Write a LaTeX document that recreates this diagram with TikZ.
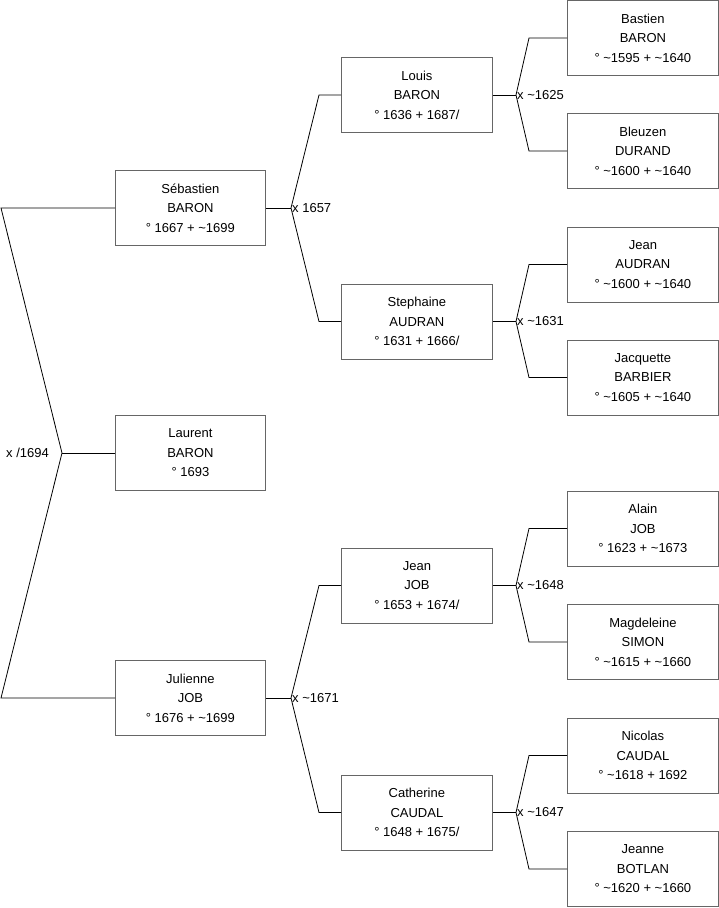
\documentclass[tikz,border=0pt]{standalone}
\usepackage{fontspec}
\setmainfont{Liberation Sans}
\usetikzlibrary{positioning}
\newcommand\abt{\textasciitilde}

\begin{document}
\begin{tikzpicture}[x=1pt, y=-1pt,
  every node/.style={font=\fontsize{13}{19.5}\selectfont},
  person/.style={draw=black!60, line width=0.8pt, fill=white, align=center, minimum width=151pt, minimum height=75pt, inner sep=0pt, anchor=west},
  link/.style={line width=0.8pt},
  union/.style={anchor=west, inner sep=1pt}]
  \useasboundingbox (0,0) rectangle (719,908);

  % generation 0
  \node[person, minimum width=150pt] (sebastien) at (115,208) {Sébastien\\BARON\\° 1667 + \abt1699};
  \node[person, minimum width=150pt] (laurent) at (115,453) {Laurent\\BARON\\° 1693};
  \node[person, minimum width=150pt] (julienne) at (115,698) {Julienne\\JOB\\° 1676 + \abt1699};

  % generation 1
  \node[person] (louis) at (341,95) {Louis\\BARON\\° 1636 + 1687/};
  \node[person] (stephaine) at (341,321.5) {Stephaine\\AUDRAN\\° 1631 + 1666/};
  \node[person] (jeanjob) at (341,585.5) {Jean\\JOB\\° 1653 + 1674/};
  \node[person] (catherine) at (341,812.5) {Catherine\\CAUDAL\\° 1648 + 1675/};

  % generation 2
  \node[person] (bastien) at (567,38) {Bastien\\BARON\\° \abt1595 + \abt1640};
  \node[person] (bleuzen) at (567,151) {Bleuzen\\DURAND\\° \abt1600 + \abt1640};
  \node[person] (jeanaudran) at (567,264.5) {Jean\\AUDRAN\\° \abt1600 + \abt1640};
  \node[person] (jacquette) at (567,377.5) {Jacquette\\BARBIER\\° \abt1605 + \abt1640};
  \node[person] (alain) at (567,528.5) {Alain\\JOB\\° 1623 + \abt1673};
  \node[person] (magdeleine) at (567,642) {Magdeleine\\SIMON\\° \abt1615 + \abt1660};
  \node[person] (nicolas) at (567,755.5) {Nicolas\\CAUDAL\\° \abt1618 + 1692};
  \node[person] (jeanne) at (567,869) {Jeanne\\BOTLAN\\° \abt1620 + \abt1660};

  % unions
  \coordinate (uroot) at (62,453);
  \coordinate (utop) at (1,208);
  \coordinate (ubot) at (1,698);
  \coordinate (useb) at (291,208);
  \coordinate (ujul) at (291,698);
  \coordinate (ulouis) at (516,95);
  \coordinate (usteph) at (516,321.5);
  \coordinate (ujean) at (516,585.5);
  \coordinate (ucath) at (516,812.5);

  \draw[link] (sebastien.west) -- (utop) -- (uroot) -- (ubot) -- (julienne.west);
  \draw[link] (uroot) -- (laurent.west);
  \node[anchor=east, inner sep=1pt] (lroot) at ([xshift=-12pt]uroot) {x /1694};

  \draw[link] (sebastien.east) -- (useb);
  \draw[link] (louis.west) -- ++(-22,0) -- (useb) -- ([xshift=-22pt]stephaine.west) -- (stephaine.west);
  \node[union] (lseb) at (useb) {x 1657};

  \draw[link] (julienne.east) -- (ujul);
  \draw[link] (jeanjob.west) -- ++(-22,0) -- (ujul) -- ([xshift=-22pt]catherine.west) -- (catherine.west);
  \node[union] (ljul) at (ujul) {x \abt1671};

  \draw[link] (louis.east) -- (ulouis);
  \draw[link] (bastien.west) -- ++(-38,0) -- (ulouis) -- ([xshift=-38pt]bleuzen.west) -- (bleuzen.west);
  \node[union] (llouis) at (ulouis) {x \abt1625};

  \draw[link] (stephaine.east) -- (usteph);
  \draw[link] (jeanaudran.west) -- ++(-38,0) -- (usteph) -- ([xshift=-38pt]jacquette.west) -- (jacquette.west);
  \node[union] (lsteph) at (usteph) {x \abt1631};

  \draw[link] (jeanjob.east) -- (ujean);
  \draw[link] (alain.west) -- ++(-38,0) -- (ujean) -- ([xshift=-38pt]magdeleine.west) -- (magdeleine.west);
  \node[union] (ljean) at (ujean) {x \abt1648};

  \draw[link] (catherine.east) -- (ucath);
  \draw[link] (nicolas.west) -- ++(-38,0) -- (ucath) -- ([xshift=-38pt]jeanne.west) -- (jeanne.west);
  \node[union] (lcath) at (ucath) {x \abt1647};
\end{tikzpicture}
\end{document}
